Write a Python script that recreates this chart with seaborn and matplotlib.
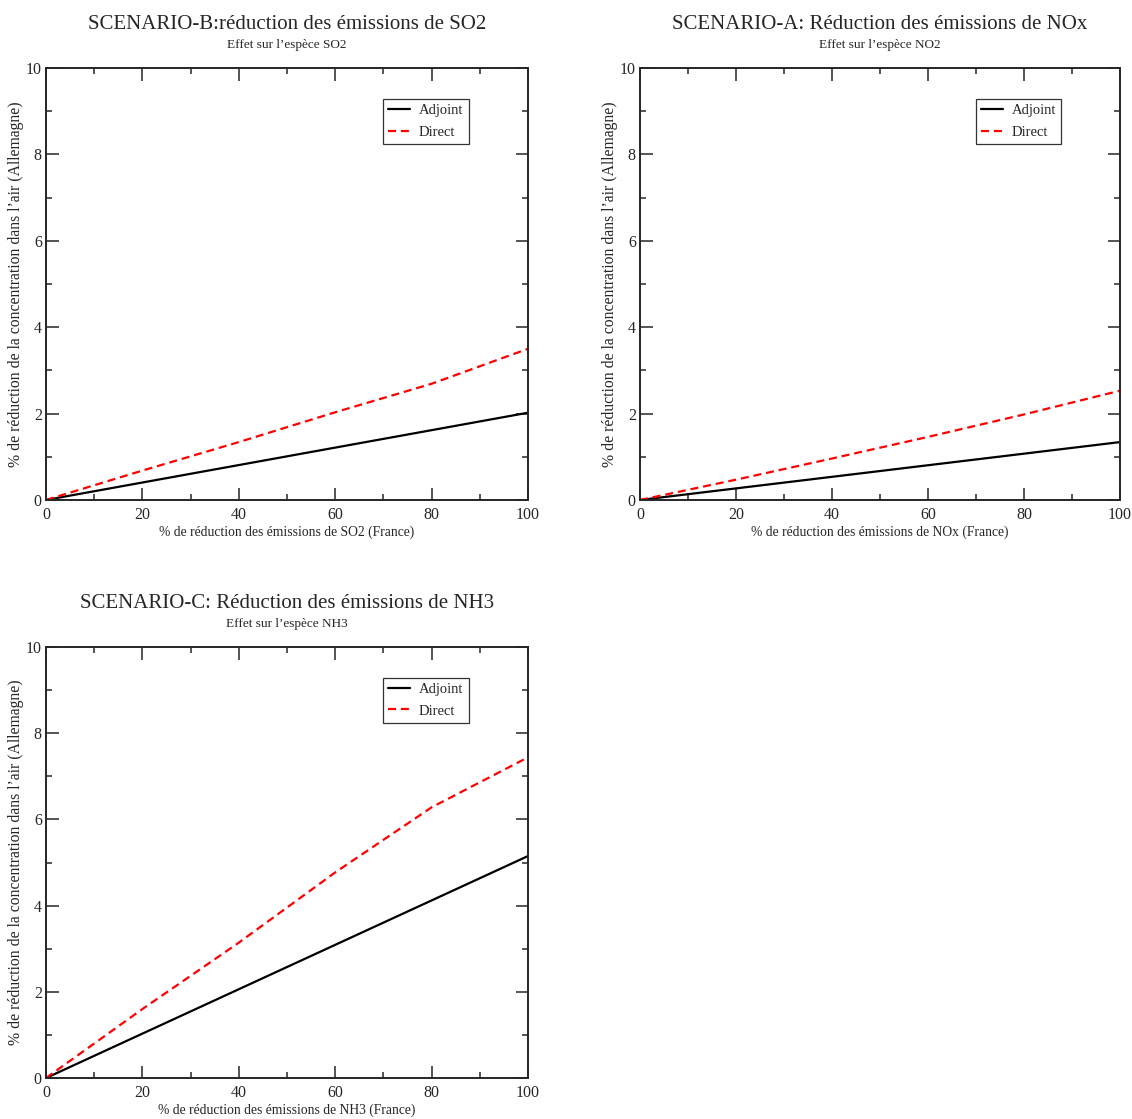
import numpy as np
import pandas as pd
import seaborn as sns
import matplotlib.pyplot as plt
from matplotlib.ticker import MultipleLocator

# emission reduction (%) in France
reduction = [0, 20, 40, 60, 80, 100]

# SO2 scenario (B)
so2_adjoint = [0, 0.404, 0.808, 1.212, 1.616, 2.02]
so2_direct = [0, 0.68, 1.34, 2.03, 2.69, 3.50]

# NOx scenario (A), effect on NO2
nox_adjoint = [0, 0.268, 0.536, 0.804, 1.072, 1.34]
nox_direct = [0, 0.47, 0.96, 1.46, 1.98, 2.53]

# NH3 scenario (C)
nh3_adjoint = [0, 1.03, 2.06, 3.09, 4.12, 5.15]
nh3_direct = [0, 1.60, 3.14, 4.77, 6.28, 7.44]

titles = ["SCENARIO-B:réduction des émissions de SO2",
          "SCENARIO-A: Réduction des émissions de NOx",
          "SCENARIO-C: Réduction des émissions de NH3"]
subtitles = ["Effet sur l\u2019espèce SO2",
             "Effet sur l\u2019espèce NO2",
             "Effet sur l\u2019espèce NH3"]
xlabels = ["% de réduction des émissions de SO2 (France)",
           "% de réduction des émissions de NOx (France)",
           "% de réduction des émissions de NH3 (France)"]
ylabel = "% de réduction de la concentration dans l\u2019air (Allemagne)"

sns.set_style("ticks")
plt.rcParams['font.family'] = ['Liberation Serif', 'DejaVu Serif']

fig = plt.figure(figsize=(11.32, 11.19), dpi=100)
boxes = [[0.0406, 0.5532, 0.4258, 0.3860],
         [0.5654, 0.5532, 0.4240, 0.3860],
         [0.0406, 0.0366, 0.4258, 0.3852]]
series = [(so2_adjoint, so2_direct), (nox_adjoint, nox_direct), (nh3_adjoint, nh3_direct)]

for i in range(3):
    ax = fig.add_axes(boxes[i])
    adj, dire = series[i]
    df = pd.DataFrame({
        'x': reduction * 2,
        'y': adj + dire,
        'serie': ['Adjoint'] * len(adj) + ['Direct'] * len(dire),
    })
    sns.lineplot(data=df, x='x', y='y', hue='serie', style='serie',
                 palette={'Adjoint': 'black', 'Direct': 'red'},
                 dashes={'Adjoint': '', 'Direct': (3.6, 2.2)},
                 linewidth=1.6, ax=ax)
    ax.set_xlim(0, 100)
    ax.set_ylim(0, 10)
    ax.xaxis.set_major_locator(MultipleLocator(20))
    ax.xaxis.set_minor_locator(MultipleLocator(10))
    ax.yaxis.set_major_locator(MultipleLocator(2))
    ax.yaxis.set_minor_locator(MultipleLocator(1))
    ax.tick_params(which='both', direction='in', top=True, right=True,
                   labelsize=11.5, width=1.1)
    ax.tick_params(axis='x', pad=5)
    ax.tick_params(axis='y', pad=3)
    ax.tick_params(which='major', length=9)
    ax.tick_params(which='minor', length=4.5)
    for s in ax.spines.values():
        s.set_linewidth(1.4)
        s.set_visible(True)
    ax.set_xlabel(xlabels[i], fontsize=9.8, labelpad=2)
    ax.set_ylabel(ylabel, fontsize=11.3, va='center')
    # y label sits close to the tick labels, as in the original (~16 px from left)
    ax.yaxis.set_label_coords(-30 / (boxes[i][2] * 1132), 0.5)
    ax.text(0.5, 1.10, titles[i], transform=ax.transAxes, ha='center',
            va='center', fontsize=15)
    ax.text(0.5, 1.054, subtitles[i], transform=ax.transAxes, ha='center',
            va='center', fontsize=9.5)
    leg = ax.legend(loc='upper left', bbox_to_anchor=(0.7, 0.928),
                    fontsize=10.5, frameon=True, fancybox=False,
                    edgecolor='black', handlelength=1.5, borderpad=0.35,
                    labelspacing=0.55, handletextpad=0.6, borderaxespad=0)
    leg.get_frame().set_linewidth(0.9)
    leg.set_title(None)

fig.savefig('out.png', dpi=100)
